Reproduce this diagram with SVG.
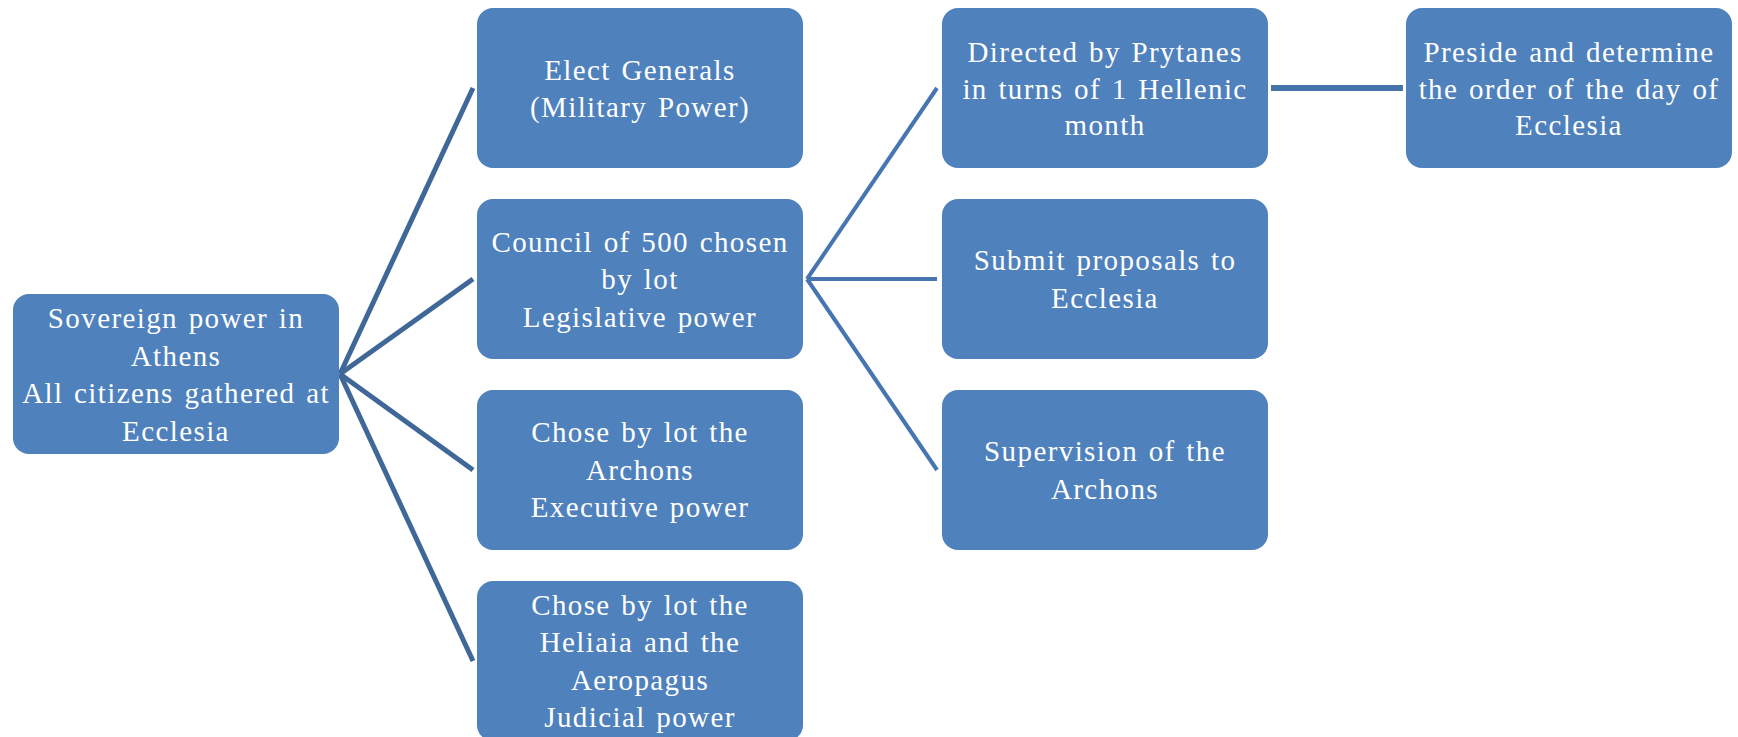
<svg xmlns="http://www.w3.org/2000/svg" width="1738" height="737" viewBox="0 0 1738 737">
<style>
.box{fill:#4F81BD;}
.t{font-family:"Liberation Serif","Times New Roman",serif;font-size:29px;fill:#FFFFFF;text-anchor:middle;letter-spacing:1.4px;word-spacing:2px;}
.c1{stroke:#3F6898;stroke-width:5;fill:none;stroke-linecap:butt;}
.c2{stroke:#4675B0;stroke-width:4;fill:none;}
.c3{stroke:#4672AA;stroke-width:6;fill:none;}
</style>
<rect width="1738" height="737" fill="#FFFFFF"/>
<g id="connectors">
<line class="c1" x1="340" y1="374" x2="473" y2="88"/>
<line class="c1" x1="340" y1="374" x2="473" y2="279"/>
<line class="c1" x1="340" y1="374" x2="473" y2="470"/>
<line class="c1" x1="340" y1="374" x2="473" y2="661"/>
<line class="c2" x1="807" y1="279" x2="937" y2="88"/>
<line class="c2" x1="807" y1="279" x2="937" y2="279"/>
<line class="c2" x1="807" y1="279" x2="937" y2="470"/>
<line class="c3" x1="1271" y1="88" x2="1403" y2="88"/>
</g>
<g id="root">
<rect class="box" x="13" y="294" width="326" height="160" rx="16"/>
<text class="t" x="176"><tspan x="176" y="328">Sovereign power in</tspan><tspan x="176" y="366">Athens</tspan><tspan x="176" y="403">All citizens gathered at</tspan><tspan x="176" y="441">Ecclesia</tspan></text>
</g>
<g id="generals">
<rect class="box" x="477" y="8" width="326" height="160" rx="16"/>
<text class="t"><tspan x="640" y="80">Elect Generals</tspan><tspan x="640" y="117">(Military Power)</tspan></text>
</g>
<g id="council">
<rect class="box" x="477" y="199" width="326" height="160" rx="16"/>
<text class="t"><tspan x="640" y="252">Council of 500 chosen</tspan><tspan x="640" y="289">by lot</tspan><tspan x="640" y="327">Legislative power</tspan></text>
</g>
<g id="archons">
<rect class="box" x="477" y="390" width="326" height="160" rx="16"/>
<text class="t"><tspan x="640" y="442">Chose by lot the</tspan><tspan x="640" y="480">Archons</tspan><tspan x="640" y="517">Executive power</tspan></text>
</g>
<g id="heliaia">
<rect class="box" x="477" y="581" width="326" height="160" rx="16"/>
<text class="t"><tspan x="640" y="615">Chose by lot the</tspan><tspan x="640" y="652">Heliaia and the</tspan><tspan x="640" y="690">Aeropagus</tspan><tspan x="640" y="727">Judicial power</tspan></text>
</g>
<g id="prytanes">
<rect class="box" x="942" y="8" width="326" height="160" rx="16"/>
<text class="t"><tspan x="1105" y="62">Directed by Prytanes</tspan><tspan x="1105" y="99">in turns of 1 Hellenic</tspan><tspan x="1105" y="135">month</tspan></text>
</g>
<g id="proposals">
<rect class="box" x="942" y="199" width="326" height="160" rx="16"/>
<text class="t"><tspan x="1105" y="270">Submit proposals to</tspan><tspan x="1105" y="308">Ecclesia</tspan></text>
</g>
<g id="supervision">
<rect class="box" x="942" y="390" width="326" height="160" rx="16"/>
<text class="t"><tspan x="1105" y="461">Supervision of the</tspan><tspan x="1105" y="499">Archons</tspan></text>
</g>
<g id="preside">
<rect class="box" x="1406" y="8" width="326" height="160" rx="16"/>
<text class="t"><tspan x="1569" y="62">Preside and determine</tspan><tspan x="1569" y="99">the order of the day of</tspan><tspan x="1569" y="135">Ecclesia</tspan></text>
</g>
</svg>
